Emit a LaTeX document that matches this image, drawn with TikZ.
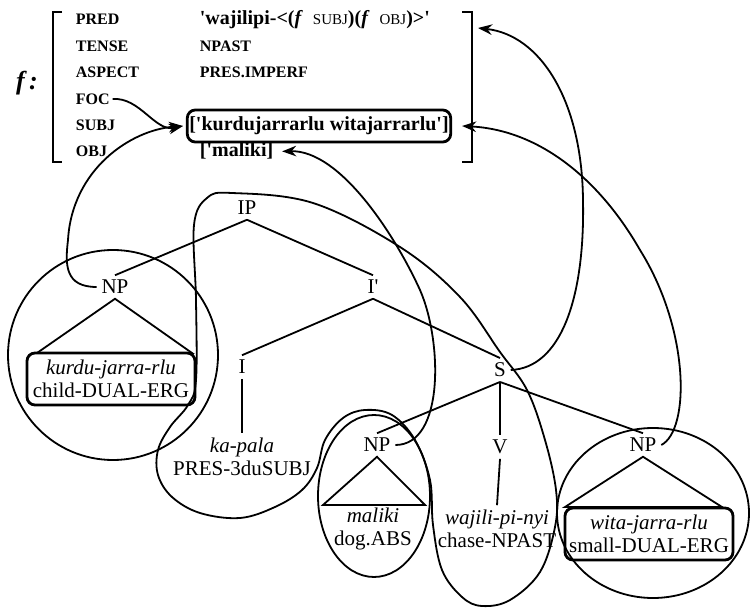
\documentclass[tikz,border=0pt]{standalone}
\usepackage{amsmath,amssymb}
\usepackage{fontspec}
\setmainfont{Liberation Serif}
\usepackage{tikz}
\usetikzlibrary{arrows.meta}

\newcommand{\fsc}[1]{{\fontsize{7.5}{9}\selectfont\mdseries #1}}
\newcommand{\sq}{\textquotesingle}

\begin{document}
\begin{tikzpicture}[x=0.5pt,y=-0.5pt,>=Stealth,line width=0.9pt,
        cat/.style={inner sep=2pt,font=\fontsize{10.5}{11.5}\selectfont},
        lex/.style={align=center,inner sep=2pt,font=\fontsize{10.5}{11.5}\selectfont},
        lexbox/.style={lex,draw,line width=1.4pt,rounded corners=4pt,minimum width=84pt,minimum height=26pt},
        fattr/.style={anchor=base west,inner sep=1pt,font=\fontsize{8}{9}\selectfont\bfseries},
        fval/.style={anchor=base west,inner sep=1pt,font=\fontsize{10}{12}\selectfont\bfseries}]
        \useasboundingbox (0,0) rectangle (750,609);
        \node [font=\fontsize{13}{14}\selectfont\bfseries\itshape] (fname) at (27,83) {f\,:};
        \draw (62,12) -| (53,162) -- (62,162);
        \draw (462,12) -| (472,162) -- (462,162);
        \node [fattr] (pred) at (73,25) {PRED};
        \node [fattr] (tense) at (73,51.4) {TENSE};
        \node [fattr] (aspect) at (73,77.8) {ASPECT};
        \node [fattr] (foc) at (73,104.2) {FOC};
        \node [fattr] (subj) at (73,130.6) {SUBJ};
        \node [fattr] (obj) at (73,157) {OBJ};
        \node [fval] (predval) at (197,25) {\sq wajilipi-<(\textit{f}\ \ \fsc{SUBJ})(\textit{f}\ \ \fsc{OBJ})>\sq};
        \node [fattr] (tenseval) at (197,51.4) {NPAST};
        \node [fattr] (aspectval) at (197,77.8) {PRES.IMPERF};
        \node [fval,anchor=center,draw,line width=1.4pt,rounded corners=4pt,minimum width=126pt,minimum height=16pt] (subjval) at (319,126) {[\sq kurdujarrarlu witajarrarlu\sq]};
        \node [fval] (objval) at (197,157) {[\sq maliki]};
        \coordinate (fstop) at (478,28);

        \node [cat] (ip) at (247,208) {IP};
        \node [cat] (npa) at (115,287) {NP};
        \node [cat] (ibar) at (373,287) {I\sq};
        \node [cat] (infl) at (242,367) {I};
        \node [cat] (s) at (500,370) {S};
        \node [cat] (npb) at (377,445) {NP};
        \node [cat] (v) at (500,447) {V};
        \node [cat] (npc) at (643,445) {NP};
        \node [lexbox] (kurdu) at (111,379) {\textit{kurdu-jarra-rlu}\\child-DUAL-ERG};
        \node [lex] (kapala) at (242,457) {\textit{ka-pala}\\PRES-3duSUBJ};
        \node [lex] (maliki) at (373,529) {\textit{maliki}\\dog.ABS};
        \node [lex] (wajili) at (497,529) {\textit{wajili-pi-nyi}\\chase-NPAST};
        \node [lexbox] (wita) at (649,534) {\textit{wita-jarra-rlu}\\small-DUAL-ERG};

        \draw (ip.south) -- (npa.north);
        \draw (ip.south) -- (ibar.north);
        \draw (ibar.south) -- (infl.north);
        \draw (ibar.south) -- (s.north);
        \draw (infl.south) -- (kapala.north);
        \draw (s.south) -- (npb.north);
        \draw (s.south) -- (v.north);
        \draw (s.south) -- (npc.north);
        \draw (v.south) -- (wajili.north);
        \draw (npa.south) -- (37,353) -- (192,353) -- cycle;
        \draw (npb.south) -- (323,505) -- (425,505) -- cycle;
        \draw (npc.south) -- (565,507) -- (722,507) -- cycle;

        \draw (113,355) circle [radius=52.5pt];
        \draw (374,496) ellipse [x radius=28pt, y radius=40.5pt];
        \draw (653,513) ellipse [x radius=48pt, y radius=42.5pt];
        \draw plot [smooth cycle, tension=0.6] coordinates {(196,300) (196,380) (188,405) (170,427) (158,450) (158,475) (172,497) (200,513) (240,518) (275,507) (302,490) (317,468) (325,440) (343,418) (365,410) (392,415) (415,440) (430,480) (433,525) (442,570) (462,597) (482,606) (510,600) (540,572) (555,527) (556,490) (545,440) (527,390) (500,352) (460,297) (400,247) (313,203) (232,193) (207,198) (194,225)};

        \draw [->] (foc.east) .. controls (140,97) and (155,132) .. ([xshift=-1.5pt]subjval.west);
        \draw [->] (npa.west) .. controls (65,287) and (65,265) .. (68,240) .. controls (72,170) and (130,130) .. ([xshift=-1.5pt]subjval.west);
        \draw [->] (npb.east) .. controls (445,445) and (442,340) .. (420,290) .. controls (395,235) and (340,150) .. ([xshift=3pt]objval.east);
        \draw [->] (npc.east) .. controls (690,430) and (690,330) .. (640,250) .. controls (600,180) and (540,130) .. ([xshift=5pt]subjval.east);
        \draw [->] (s.east) .. controls (560,368) and (585,300) .. (583,200) .. controls (582,100) and (540,35) .. (fstop);
    \end{tikzpicture}
\end{document}
